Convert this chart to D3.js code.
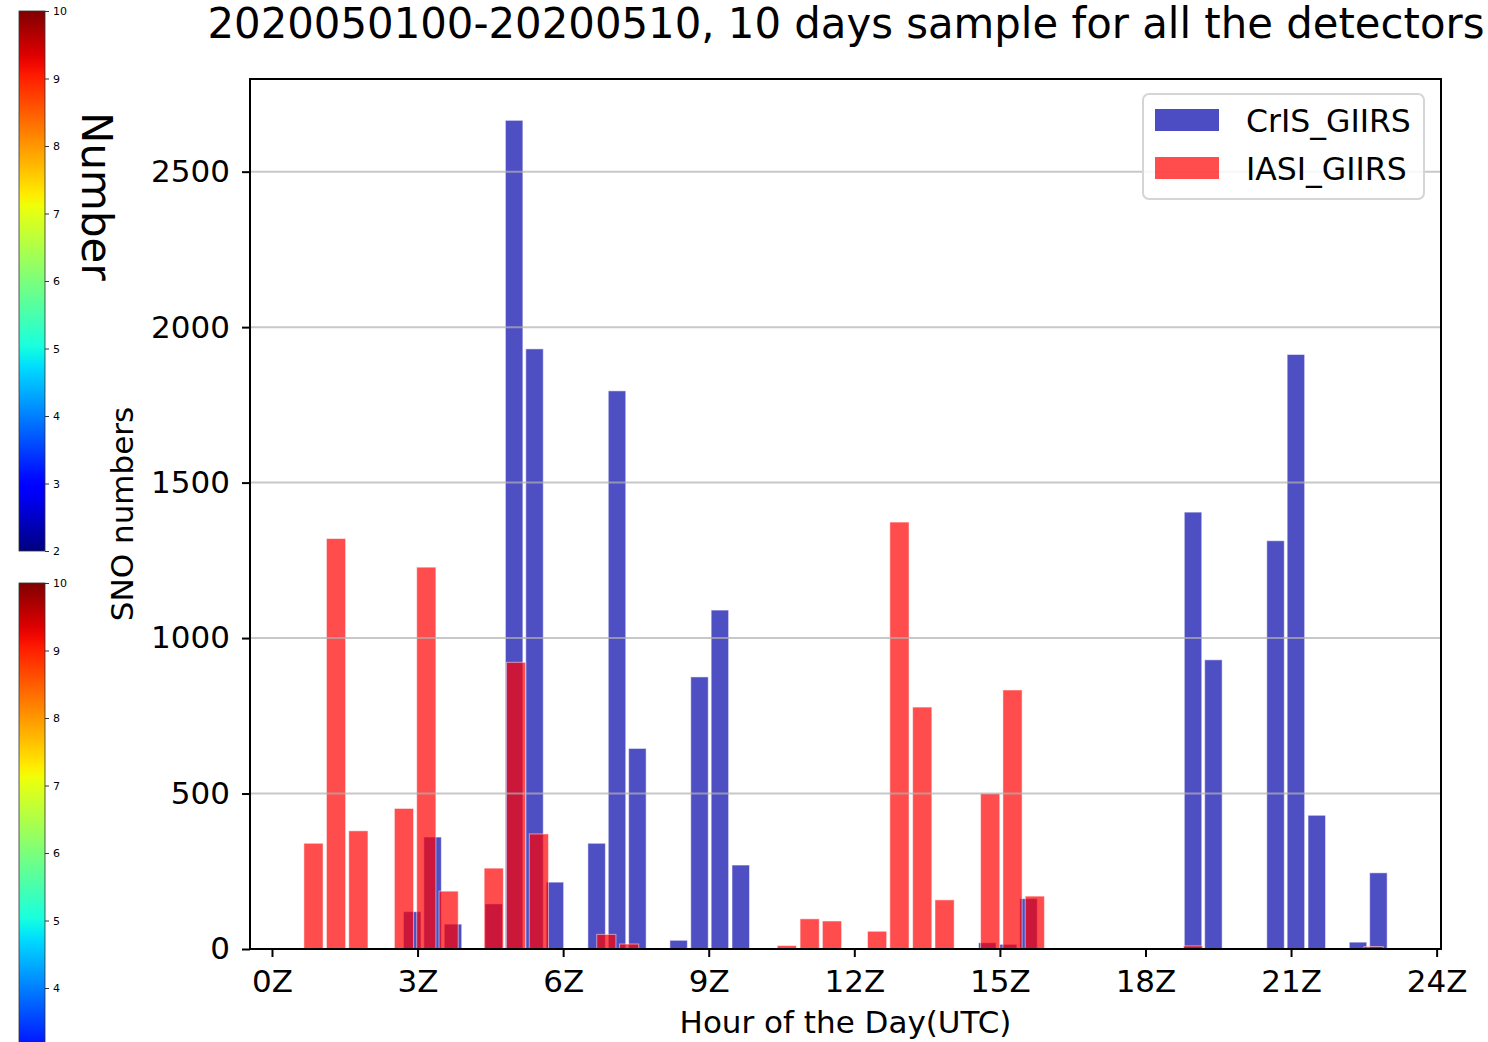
<!DOCTYPE html>
<html>
<head>
<meta charset="utf-8">
<title>SNO numbers by hour</title>
<script src="https://d3js.org/d3.v7.min.js"></script>
<style>
body { margin: 0; background: #fff; }
svg text { font-family: "DejaVu Sans", sans-serif; fill: #000; }
.grid line { stroke: #b0b0b0; stroke-opacity: 0.7; stroke-width: 2; }
</style>
</head>
<body>
<svg id="chart" width="1488" height="1042"></svg>
<script>
// bar centres in hours (UTC) and SNO counts
var crisHours = [2.89, 3.31, 3.73, 4.57, 4.99, 5.41, 5.83, 6.69, 7.11, 7.53, 8.38, 8.81, 9.23, 9.66,
                 14.74, 15.17, 15.59, 18.98, 19.40, 20.68, 21.10, 21.53, 22.38, 22.80];
var crisCounts = [120, 360, 80, 145, 2665, 1930, 215, 340, 1795, 645, 28, 875, 1090, 270,
                  20, 15, 162, 1405, 930, 1313, 1912, 430, 22, 245];

var iasiHours = [0.855, 1.32, 1.78, 2.72, 3.18, 3.64, 4.57, 5.03, 5.50, 6.89, 7.36, 10.61, 11.08, 11.54,
                 12.47, 12.93, 13.40, 13.86, 14.80, 15.26, 15.72, 18.98, 22.70];
var iasiCounts = [340, 1320, 380, 452, 1228, 186, 260, 922, 370, 47, 16, 11, 97, 90,
                  57, 1373, 778, 158, 500, 833, 170, 10, 8];

var seriesNames = ["CrIS_GIIRS", "IASI_GIIRS"];
var xTicks = [0, 3, 6, 9, 12, 15, 18, 21, 24];
var yTicks = [0, 500, 1000, 1500, 2000, 2500];
var cbarTicks = [2, 3, 4, 5, 6, 7, 8, 9, 10];
var title = "2020050100-20200510, 10 days sample for all the detectors";

var svg = d3.select("#chart"),
    margin = {top: 79, right: 47, bottom: 93, left: 250},
    W = +svg.attr("width"), H = +svg.attr("height");

var x = d3.scaleLinear().domain([-0.453, 24.09]).range([margin.left, W - margin.right]);
var y = d3.scaleLinear().domain([0, 2798]).range([H - margin.bottom, margin.top]);

var blueFill = "#0000aa", redFill = "#ff0000";
var crisWidth = 0.36, iasiWidth = 0.395;   // bar widths in hours

// jet colour map
function jet(t) {
  function seg(pts) {
    for (var i = 1; i < pts.length; i++) {
      if (t <= pts[i][0]) {
        var a = pts[i - 1], b = pts[i];
        return a[1] + (b[1] - a[1]) * (t - a[0]) / (b[0] - a[0]);
      }
    }
    return pts[pts.length - 1][1];
  }
  var r = seg([[0, 0], [0.35, 0], [0.66, 1], [0.89, 1], [1, 0.5]]),
      g = seg([[0, 0], [0.125, 0], [0.375, 1], [0.64, 1], [0.91, 0], [1, 0]]),
      b = seg([[0, 0.5], [0.11, 1], [0.34, 1], [0.65, 0], [1, 0]]);
  return d3.rgb(r * 255, g * 255, b * 255).formatHex();
}

var defs = svg.append("defs");
var grad = defs.append("linearGradient").attr("id", "jet")
    .attr("x1", 0).attr("y1", 1).attr("x2", 0).attr("y2", 0);
d3.range(0, 1.0001, 0.02).forEach(function(t) {
  grad.append("stop").attr("offset", t).attr("stop-color", jet(t));
});

// two colour bars on the left (the lower one runs off the page)
function colorbar(top) {
  var cb = d3.scaleLinear().domain([2, 10]).range([top + 540, top]);
  var g = svg.append("g");
  g.append("rect").attr("x", 19).attr("y", top).attr("width", 26).attr("height", 540)
    .attr("fill", "url(#jet)").attr("stroke", "#333").attr("stroke-width", 0.8);
  g.append("g").attr("transform", "translate(45,0)")
    .call(d3.axisRight(cb).tickValues(cbarTicks.filter(v => cb(v) < H - 6))
      .tickSize(4).tickPadding(4))
    .call(function(a) {
      a.select(".domain").remove();
      a.selectAll("line").attr("stroke", "#333");
      a.selectAll("text").attr("font-size", 11).attr("fill", "#333")
        .style("font-family", "DejaVu Sans, sans-serif");
    });
}
colorbar(11);
colorbar(583);

svg.append("text")
  .attr("transform", "translate(82,112) rotate(90)")
  .attr("font-size", 42)
  .text("Number");

// bars
svg.append("g").selectAll("rect")
  .data(d3.zip(crisHours, crisCounts))
  .join("rect")
    .attr("x", d => x(d[0] - crisWidth / 2))
    .attr("width", x(crisWidth) - x(0))
    .attr("y", d => y(d[1]))
    .attr("height", d => y(0) - y(d[1]))
    .attr("fill", blueFill).attr("fill-opacity", 0.69)
    .attr("stroke", "#fff").attr("stroke-opacity", 0.5).attr("stroke-width", 1);

svg.append("g").selectAll("rect")
  .data(d3.zip(iasiHours, iasiCounts))
  .join("rect")
    .attr("x", d => x(d[0] - iasiWidth / 2))
    .attr("width", x(iasiWidth) - x(0))
    .attr("y", d => y(d[1]))
    .attr("height", d => y(0) - y(d[1]))
    .attr("fill", redFill).attr("fill-opacity", 0.7)
    .attr("stroke", "#fff").attr("stroke-opacity", 0.5).attr("stroke-width", 1);

// horizontal grid on top of bars
svg.append("g").attr("class", "grid")
  .selectAll("line").data(yTicks).join("line")
    .attr("x1", margin.left).attr("x2", W - margin.right)
    .attr("y1", d => y(d)).attr("y2", d => y(d));

// axes
function styleAxis(a) {
  a.select(".domain").remove();
  a.selectAll("line").attr("stroke", "#000").attr("stroke-width", 2);
  a.selectAll("text").attr("font-size", 31).attr("fill", "#000")
    .style("font-family", "DejaVu Sans, sans-serif");
}
svg.append("g").attr("transform", "translate(0," + (H - margin.bottom) + ")")
  .call(d3.axisBottom(x).tickValues(xTicks).tickFormat(d => d + "Z").tickSize(8).tickPadding(13))
  .call(styleAxis);
svg.append("g").attr("transform", "translate(" + margin.left + ",0)")
  .call(d3.axisLeft(y).tickValues(yTicks).tickFormat(d3.format("d")).tickSize(8).tickPadding(12))
  .call(styleAxis);

svg.append("rect")
  .attr("x", margin.left).attr("y", margin.top)
  .attr("width", W - margin.right - margin.left)
  .attr("height", H - margin.bottom - margin.top)
  .attr("fill", "none").attr("stroke", "#000").attr("stroke-width", 2);

// labels
svg.append("text")
  .attr("x", 846).attr("y", 38)
  .attr("text-anchor", "middle").attr("font-size", 41.8)
  .text(title);

svg.append("text")
  .attr("x", (margin.left + W - margin.right) / 2).attr("y", 1033)
  .attr("text-anchor", "middle").attr("font-size", 31)
  .text("Hour of the Day(UTC)");

svg.append("text")
  .attr("transform", "translate(133," + (margin.top + H - margin.bottom) / 2 + ") rotate(-90)")
  .attr("text-anchor", "middle").attr("font-size", 31)
  .text("SNO numbers");

// legend
var lg = svg.append("g").attr("transform", "translate(1143,94)");
lg.append("rect").attr("width", 281).attr("height", 105).attr("rx", 6)
  .attr("fill", "#fff").attr("fill-opacity", 0.85)
  .attr("stroke", "#d5d5d5").attr("stroke-width", 2);
[blueFill, redFill].forEach(function(c, i) {
  lg.append("rect").attr("x", 12).attr("y", 15 + i * 48).attr("width", 64).attr("height", 22)
    .attr("fill", c).attr("fill-opacity", 0.7);
  lg.append("text").attr("x", 103).attr("y", 38 + i * 48).attr("font-size", 31.5)
    .text(seriesNames[i]);
});
</script>
</body>
</html>
